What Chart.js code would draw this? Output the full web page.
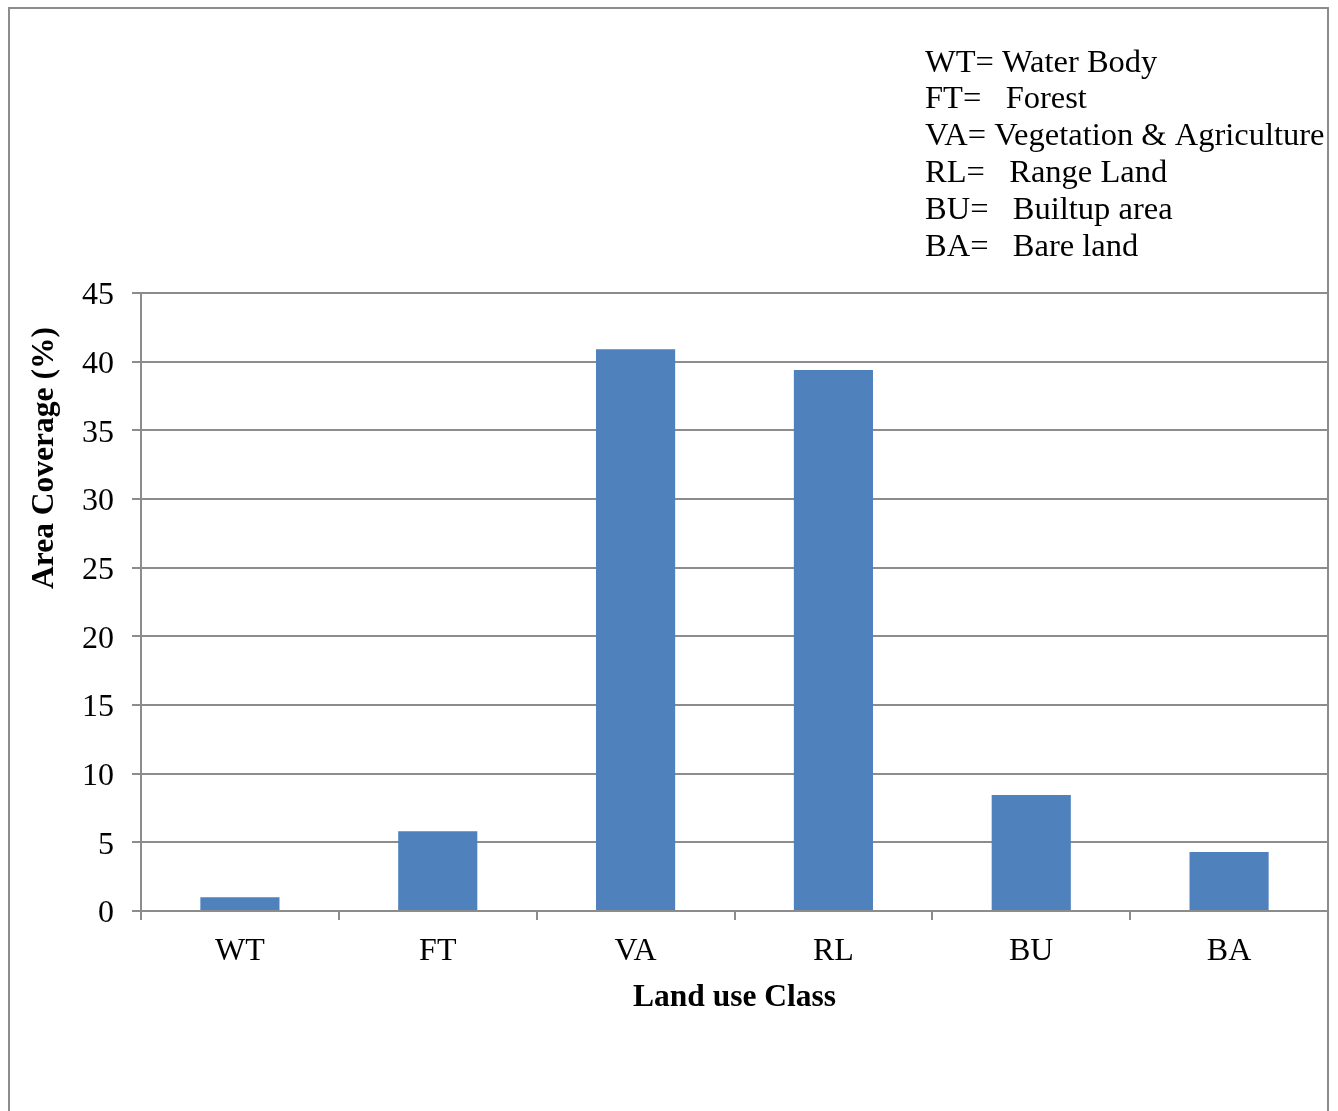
<!DOCTYPE html>
<html>
<head>
<meta charset="utf-8">
<script src="https://cdn.jsdelivr.net/npm/chart.js@4/dist/chart.umd.min.js"></script>
<style>
  html, body { margin: 0; padding: 0; background: #ffffff; }
  #wrap { width: 1338px; height: 1111px; position: relative; }
</style>
</head>
<body>
<div id="wrap"><canvas id="c" width="1338" height="1111"></canvas></div>
<script>
// ---- data ----
const categories = ["WT", "FT", "VA", "RL", "BU", "BA"];
const areaCoverage = [1.0, 5.8, 40.9, 39.4, 8.45, 4.3];
const yTicks = [0, 5, 10, 15, 20, 25, 30, 35, 40, 45];
const legendLines = [
  "WT= Water Body",
  "FT=   Forest",
  "VA= Vegetation & Agriculture",
  "RL=   Range Land",
  "BU=   Builtup area",
  "BA=   Bare land"
];
const xTitle = "Land use Class";
const yTitle = "Area Coverage (%)";

const FONT = "'Liberation Serif', 'Times New Roman', serif";
const GRID = "#8c8c8c";

const framePlugin = {
  id: "frame",
  beforeDraw(chart) {
    const ctx = chart.ctx;
    ctx.save();
    ctx.fillStyle = "#ffffff";
    ctx.fillRect(0, 0, chart.width, chart.height);
    ctx.strokeStyle = GRID;
    ctx.lineWidth = 2;
    ctx.strokeRect(9, 8, 1319, 1300);
    ctx.restore();
  },
  afterDraw(chart) {
    const ctx = chart.ctx;
    ctx.save();
    ctx.fillStyle = "#000000";
    ctx.font = "32.5px " + FONT;
    ctx.textBaseline = "middle";
    ctx.textAlign = "left";
    legendLines.forEach((t, i) => {
      ctx.fillText(t, 925, 63 + i * 36.9);
    });
    // y axis title
    ctx.font = "bold 31.5px " + FONT;
    ctx.translate(45, 458);
    ctx.rotate(-Math.PI / 2);
    ctx.textAlign = "center";
    ctx.fillText(yTitle, 0, 0);
    ctx.restore();
  }
};

new Chart(document.getElementById("c"), {
  type: "bar",
  data: {
    labels: categories,
    datasets: [{
      data: areaCoverage,
      backgroundColor: "#4F81BD",
      borderWidth: 0,
      categoryPercentage: 1.0,
      barPercentage: 0.4
    }]
  },
  options: {
    responsive: false,
    animation: false,
    devicePixelRatio: 1,
    layout: { padding: { top: 293, right: 10, left: 0, bottom: 94 } },
    plugins: {
      legend: { display: false },
      tooltip: { enabled: false },
      title: { display: false }
    },
    scales: {
      x: {
        afterFit(scale) { scale.height = 106; },
        grid: {
          offset: true,
          drawOnChartArea: false,
          drawTicks: true,
          tickLength: 9,
          color: GRID,
          lineWidth: 2
        },
        border: { display: true, color: GRID, width: 2 },
        ticks: {
          color: "#000000",
          font: { family: FONT, size: 32 },
          padding: 12,
          maxRotation: 0
        },
        title: {
          display: true,
          text: xTitle,
          color: "#000000",
          font: { family: FONT, size: 31.5, weight: "bold" },
          padding: { top: 0, bottom: 0 }
        }
      },
      y: {
        min: 0,
        max: 45,
        afterFit(scale) { scale.width = 141; },
        afterBuildTicks(scale) { scale.ticks = yTicks.map(v => ({ value: v })); },
        grid: {
          drawTicks: true,
          tickLength: 9,
          color: GRID,
          lineWidth: 2
        },
        border: { display: true, color: GRID, width: 2 },
        ticks: {
          color: "#000000",
          font: { family: FONT, size: 32 },
          padding: 18,
          labelOffset: 3
        }
      }
    }
  },
  plugins: [framePlugin]
});
</script>
</body>
</html>
